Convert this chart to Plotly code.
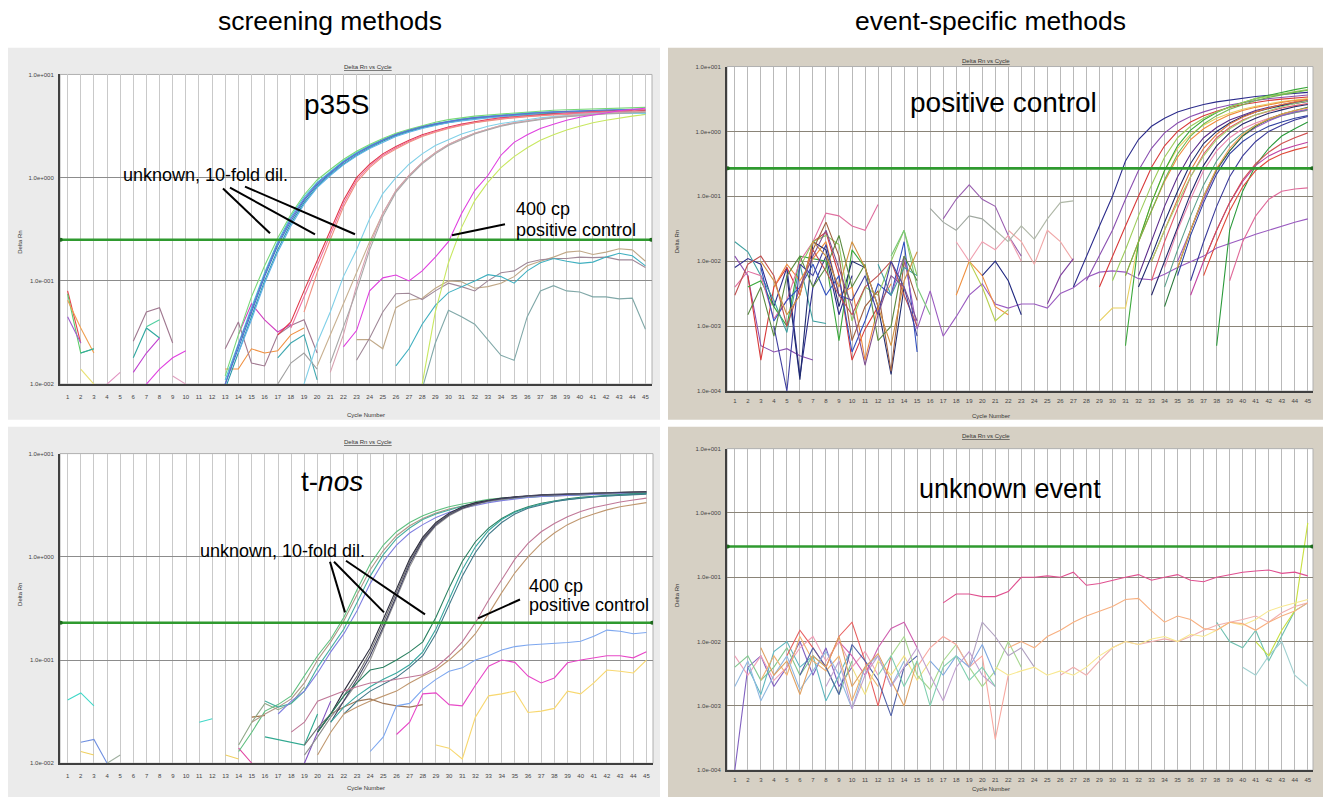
import plotly.graph_objects as go

CYCLES = list(range(1, 46))

# ---------------- p35S (screening, top-left) ----------------
P35S_THRESHOLD = 0.25
P35S_START = [1, 1, 1, 1, 2, 2, 4, 6, 6, 7, 6, 7, 9, 13, 13, 14, 17, 17,
              23, 23, 26, 28,
              13, 13, 13, 13, 14, 13,
              17, 18, 19,
              20, 19, 21, 21,
              22, 28]
P35S_VALUES = [
    [0.08, 0.025],
    [0.075, 0.02, 0.022],
    [0.065, 0.035, 0.02],
    [0.045, 0.025],
    [0.014, 0.01],
    [0.02, 0.022],
    [0.01, 0.013],
    [0.026, 0.05, 0.055, 0.025],
    [0.018, 0.035, 0.028],
    [0.036, 0.042],
    [0.013, 0.02, 0.028],
    [0.01, 0.014, 0.018, 0.021],
    [0.012, 0.01],
    [0.014, 0.014, 0.022, 0.02, 0.021, 0.03, 0.035],
    [0.022, 0.04, 0.016, 0.015, 0.03, 0.037, 0.042, 0.02],
    [0.03, 0.06, 0.042, 0.032, 0.038],
    [0.018, 0.025, 0.03, 0.011],
    [0.01, 0.016, 0.02, 0.014],
    # negatives
    [0.027, 0.027, 0.022, 0.055, 0.065, 0.068, 0.085, 0.1, 0.098, 0.085, 0.088, 0.095,
     0.11, 0.14, 0.155, 0.17, 0.19, 0.195, 0.18, 0.19, 0.205, 0.2, 0.155],
    [0.017, 0.028, 0.05, 0.075, 0.076, 0.066, 0.08, 0.095, 0.088, 0.08, 0.1, 0.12,
     0.125, 0.15, 0.16, 0.165, 0.165, 0.17, 0.168, 0.17, 0.16, 0.16, 0.135],
    [0.015, 0.022, 0.038, 0.058, 0.077, 0.087, 0.1, 0.115, 0.11, 0.095, 0.125, 0.15,
     0.165, 0.155, 0.148, 0.152, 0.17, 0.185, 0.175, 0.14],
    [0.009, 0.025, 0.052, 0.045, 0.038, 0.027, 0.019, 0.017, 0.045, 0.08, 0.09, 0.08,
     0.078, 0.07, 0.07, 0.067, 0.068, 0.034],
    # unknown, undiluted
    [0.010, 0.022, 0.05, 0.11, 0.22, 0.38, 0.6, 0.85, 1.1, 1.4, 1.7, 2.0, 2.3, 2.6, 2.85,
     3.1, 3.3, 3.5, 3.65, 3.8, 3.9, 4.0, 4.1, 4.2, 4.25, 4.3, 4.35, 4.4, 4.45, 4.5, 4.5, 4.55, 4.5],
    [0.011, 0.025, 0.055, 0.12, 0.24, 0.42, 0.65, 0.9, 1.15, 1.45, 1.75, 2.05, 2.35, 2.65, 2.9,
     3.15, 3.35, 3.55, 3.7, 3.85, 3.95, 4.05, 4.15, 4.25, 4.3, 4.35, 4.4, 4.45, 4.5, 4.55, 4.6, 4.6, 4.3],
    [0.012, 0.03, 0.07, 0.14, 0.26, 0.44, 0.68, 0.95, 1.2, 1.5, 1.8, 2.1, 2.4, 2.7, 2.95,
     3.2, 3.45, 3.65, 3.8, 3.95, 4.05, 4.15, 4.25, 4.35, 4.4, 4.5, 4.55, 4.6, 4.65, 4.7, 4.75, 4.8, 4.8],
    [0.009, 0.02, 0.045, 0.1, 0.2, 0.36, 0.57, 0.82, 1.07, 1.35, 1.65, 1.95, 2.25, 2.55, 2.8,
     3.05, 3.25, 3.45, 3.6, 3.75, 3.85, 3.95, 4.05, 4.1, 4.15, 4.2, 4.25, 4.3, 4.3, 4.35, 4.35, 4.4, 4.2],
    [0.02, 0.042, 0.095, 0.19, 0.34, 0.55, 0.8, 1.05, 1.33, 1.62, 1.92, 2.2, 2.5, 2.75, 3.0,
     3.2, 3.4, 3.55, 3.7, 3.8, 3.9, 4.0, 4.05, 4.1, 4.15, 4.2, 4.25, 4.25, 4.3, 4.3, 4.35, 4.1],
    [0.01, 0.024, 0.052, 0.115, 0.23, 0.4, 0.62, 0.88, 1.12, 1.42, 1.72, 2.02, 2.32, 2.62, 2.88,
     3.12, 3.32, 3.52, 3.68, 3.82, 3.92, 4.02, 4.12, 4.2, 4.28, 4.34, 4.4, 4.44, 4.48, 4.52, 4.55, 4.58, 4.55],
    # unknown, 1:10
    [0.03, 0.04, 0.08, 0.155, 0.3, 0.6, 1.0, 1.35, 1.7, 2.0, 2.3, 2.6, 2.85, 3.1, 3.3, 3.5,
     3.65, 3.8, 3.9, 4.0, 4.1, 4.15, 4.2, 4.3, 4.35, 4.4, 4.45, 4.5, 4.5],
    [0.035, 0.07, 0.14, 0.28, 0.56, 0.95, 1.3, 1.65, 1.95, 2.25, 2.55, 2.8, 3.05, 3.25, 3.45,
     3.6, 3.75, 3.85, 3.95, 4.05, 4.1, 4.2, 4.25, 4.3, 4.35, 4.4, 4.45, 4.6],
    [0.05, 0.12, 0.25, 0.52, 0.9, 1.25, 1.6, 1.9, 2.2, 2.5, 2.75, 3.0, 3.2, 3.4, 3.55, 3.7,
     3.8, 3.9, 4.0, 4.05, 4.1, 4.15, 4.2, 4.25, 4.3, 4.35, 4.4],
    # unknown, 1:100
    [0.015, 0.03, 0.06, 0.125, 0.24, 0.45, 0.75, 1.05, 1.4, 1.75, 2.1, 2.4, 2.7, 2.95, 3.2,
     3.4, 3.55, 3.7, 3.85, 3.95, 4.05, 4.1, 4.2, 4.25, 4.3, 4.35],
    [0.01, 0.025, 0.05, 0.11, 0.2, 0.4, 0.7, 1.0, 1.35, 1.7, 2.05, 2.35, 2.65, 2.9, 3.15,
     3.35, 3.5, 3.65, 3.8, 3.9, 4.0, 4.1, 4.15, 4.2, 4.2, 4.25, 4.2],
    [0.013, 0.03, 0.09, 0.22, 0.45, 0.75, 1.05, 1.4, 1.75, 2.1, 2.4, 2.7, 2.95, 3.2, 3.4,
     3.55, 3.7, 3.85, 3.95, 4.05, 4.1, 4.2, 4.25, 4.3, 4.35],
    [0.016, 0.035, 0.08, 0.2, 0.42, 0.72, 1.02, 1.36, 1.7, 2.05, 2.35, 2.65, 2.9, 3.15, 3.35,
     3.5, 3.65, 3.8, 3.9, 4.0, 4.05, 4.15, 4.2, 4.25, 4.3],
    # 400 cp positive control
    [0.023, 0.033, 0.08, 0.107, 0.114, 0.1, 0.125, 0.17, 0.24, 0.45, 0.75, 1.05, 1.65, 2.2,
     2.6, 3.0, 3.3, 3.6, 3.85, 4.05, 4.25, 4.45, 4.6, 4.7],
    [0.01, 0.05, 0.15, 0.33, 0.6, 0.9, 1.25, 1.6, 1.95, 2.3, 2.6, 2.9, 3.15, 3.4, 3.6, 3.8, 3.95, 4.1],
]
P35S_COLORS = ['#e8404a', '#5ccc6a', '#f0a050', '#a060d0', '#e8e070', '#30a8a0', '#e090c0',
               '#a07890', '#30a8a0', '#50d0a0', '#c040d0', '#e040e0', '#e0a0c0', '#f09040',
               '#a07890', '#d040c0', '#40a8b0', '#a0a0a0',
               '#c0a888', '#a08898', '#40b0c0', '#80a8a8',
               '#3a78c8', '#40c8d8', '#78d878', '#2898a8', '#60b0e8', '#6070d0',
               '#e03848', '#f070a0', '#f09080',
               '#c8b090', '#80d0e8', '#d8a0b0', '#a8a8a8',
               '#e040e0', '#c8e860']

# ---------------- positive control (event-specific, top-right) ----------------
POS_THRESHOLD = 0.27
POS_START = [1, 1, 2, 2, 1, 4, 1, 5, 3, 6, 7, 13, 16, 17, 18, 19, 18, 20, 22, 21, 13, 12, 25,
             1, 2, 4, 3, 6,
             29,
             27, 28, 29, 31, 30, 31, 32, 32, 33, 34, 34, 35, 38, 36, 37, 39, 33, 31, 33, 35, 37,
             34, 35, 36, 33]
POS_VALUES = [
    [0.008, 0.011, 0.009, 0.002, 0.008, 0.00017, 0.004, 0.012, 0.0015, 0.006],
    [0.012, 0.006, 0.0005, 0.0004, 0.00045, 0.00035, 0.0003],
    [0.006, 0.0003, 0.004, 0.008, 0.003, 0.02, 0.028, 0.006, 0.0003, 0.0009, 0.002],
    [0.004, 0.005, 0.002, 0.001, 0.012, 0.011, 0.01, 0.0006, 0.015, 0.008],
    [0.02, 0.014, 0.006, 0.0025, 0.0008, 0.009, 0.0012, 0.0011],
    [0.004, 0.009, 0.005, 0.011, 0.02, 0.003, 0.004, 0.0003, 0.002, 0.0045],
    [0.004, 0.007, 0.006, 0.0013, 0.0025, 0.01, 0.02, 0.055, 0.05, 0.035, 0.03, 0.075],
    [0.006, 0.00015, 0.02, 0.015, 0.002, 0.01, 0.008, 0.002, 0.00018, 0.004],
    [0.008, 0.0012, 0.0025, 0.004, 0.009, 0.003, 0.006, 0.0004, 0.0012, 0.0045, 0.003, 0.02, 0.0004],
    [0.008, 0.02, 0.025, 0.018, 0.0012, 0.004, 0.003, 0.01, 0.03, 0.006],
    [0.015, 0.04, 0.012, 0.0006, 0.002, 0.0035, 0.0002, 0.01, 0.0025],
    [0.003, 0.012, 0.0009, 0.0035, 0.0007, 0.0014, 0.003, 0.0045, 0.0022, 0.0019, 0.0022,
     0.0022, 0.0019, 0.0032, 0.0039, 0.0056, 0.0068, 0.0071, 0.0068, 0.0054, 0.0052, 0.0063,
     0.008, 0.0097, 0.012, 0.016, 0.019, 0.022, 0.026, 0.03, 0.035, 0.04, 0.045],
    [0.065, 0.04, 0.03, 0.05, 0.045, 0.03],
    [0.045, 0.09, 0.15, 0.09, 0.07, 0.025, 0.012],
    [0.003, 0.01, 0.006, 0.002, 0.0015],
    [0.01, 0.004, 0.0012, 0.0018],
    [0.02, 0.01, 0.02, 0.015, 0.025, 0.01],
    [0.006, 0.01, 0.005, 0.0015],
    [0.03, 0.02, 0.009, 0.03, 0.02, 0.01],
    [0.03, 0.02, 0.035, 0.022, 0.045, 0.08, 0.085],
    [0.012, 0.03, 0.004, 0.0015],
    [0.009, 0.003, 0.008, 0.006],
    [0.0022, 0.006, 0.011],
    [0.003, 0.009, 0.012, 0.006, 0.001, 0.004, 0.015, 0.007, 0.003, 0.0015, 0.004, 0.006, 0.01, 0.003, 0.001],
    [0.0015, 0.004, 0.0007, 0.006, 0.012, 0.004, 0.008, 0.025, 0.004, 0.009, 0.0006, 0.001, 0.012, 0.005],
    [0.001, 0.0001, 0.009, 0.006, 0.018, 0.003, 0.0025, 0.006, 0.0015, 0.01, 0.004, 0.0007],
    [0.01, 0.005, 0.0015, 0.003, 0.02, 0.012, 0.004, 0.02, 0.008, 0.002, 0.0005, 0.005, 0.014],
    [0.004, 0.012, 0.03, 0.008, 0.002, 0.00025, 0.0015, 0.006, 0.004, 0.0012],
    [0.0012, 0.0019, 0.0019, 0.02, 0.08, 0.25, 0.55, 0.9, 1.25, 1.6, 1.9, 2.2, 2.45, 2.7, 2.9, 3.05, 3.2],
    # amplification curves
    [0.004, 0.012, 0.035, 0.1, 0.35, 0.75, 1.2, 1.6, 2.0, 2.3, 2.6, 2.85, 3.05, 3.25, 3.45, 3.6, 3.75, 3.9, 4.0],
    [0.005, 0.012, 0.03, 0.09, 0.25, 0.55, 0.95, 1.35, 1.7, 2.0, 2.3, 2.55, 2.8, 3.0, 3.2, 3.35, 3.5, 3.65],
    [0.004, 0.012, 0.035, 0.1, 0.28, 0.6, 1.0, 1.4, 1.75, 2.05, 2.35, 2.6, 2.8, 3.0, 3.15, 3.3, 3.4],
    [0.0005, 0.02, 0.08, 0.25, 0.6, 1.05, 1.5, 1.95, 2.4, 2.8, 3.2, 3.6, 4.0, 4.4, 4.8],
    [0.005, 0.015, 0.05, 0.15, 0.4, 0.8, 1.2, 1.6, 2.0, 2.4, 2.8, 3.2, 3.5, 3.8, 4.1, 4.4],
    [0.006, 0.02, 0.06, 0.17, 0.4, 0.75, 1.1, 1.45, 1.8, 2.1, 2.35, 2.6, 2.8, 3.0, 3.1],
    [0.006, 0.02, 0.07, 0.2, 0.45, 0.8, 1.15, 1.5, 1.8, 2.1, 2.35, 2.6, 2.8, 3.0],
    [0.004, 0.012, 0.04, 0.12, 0.32, 0.65, 1.0, 1.35, 1.7, 2.0, 2.25, 2.5, 2.7, 2.9],
    [0.005, 0.02, 0.065, 0.2, 0.45, 0.8, 1.15, 1.5, 1.8, 2.05, 2.3, 2.5, 2.7],
    [0.008, 0.03, 0.09, 0.25, 0.5, 0.8, 1.1, 1.35, 1.6, 1.8, 1.95, 2.1],
    [0.004, 0.015, 0.05, 0.15, 0.35, 0.65, 0.95, 1.25, 1.5, 1.75, 1.95, 2.15],
    [0.006, 0.025, 0.08, 0.22, 0.45, 0.7, 0.95, 1.2, 1.4, 1.6, 1.75],
    [0.0005, 0.03, 0.12, 0.3, 0.55, 0.85, 1.1, 1.4],
    [0.003, 0.01, 0.03, 0.08, 0.17, 0.3, 0.42, 0.52, 0.6, 0.68],
    [0.006, 0.02, 0.06, 0.14, 0.25, 0.36, 0.45, 0.52, 0.58],
    [0.005, 0.02, 0.05, 0.09, 0.12, 0.13, 0.135],
    [0.003, 0.01, 0.035, 0.11, 0.3, 0.6, 0.95, 1.3, 1.6, 1.9, 2.15, 2.4, 2.6],
    [0.006, 0.02, 0.06, 0.18, 0.45, 0.85, 1.3, 1.75, 2.2, 2.6, 3.0, 3.35, 3.7, 4.0, 4.3],
    [0.01, 0.03, 0.09, 0.25, 0.55, 0.9, 1.3, 1.65, 2.0, 2.3, 2.6, 2.85, 3.1],
    [0.01, 0.03, 0.09, 0.25, 0.5, 0.85, 1.15, 1.45, 1.75, 2.0, 2.2],
    [0.01, 0.03, 0.08, 0.18, 0.32, 0.48, 0.65, 0.8, 0.95],
    [0.002, 0.008, 0.03, 0.1, 0.26, 0.5, 0.85, 1.2, 1.55, 1.85, 2.1, 2.35],
    [0.008, 0.03, 0.1, 0.27, 0.55, 0.9, 1.25, 1.55, 1.85, 2.1, 2.3],
    [0.005, 0.02, 0.07, 0.2, 0.42, 0.7, 1.0, 1.25, 1.5, 1.7],
    [0.01, 0.03, 0.08, 0.2, 0.42, 0.75, 1.1, 1.45, 1.8, 2.1, 2.4, 2.7, 2.95],
]
POS_COLORS = ['#2c2c8c', '#8a4fb0', '#d83a3a', '#3aa83a', '#40a0a0', '#f08a3c', '#e070a0',
              '#1e2a6e', '#3050c0', '#90c860', '#a06040', '#9a5ac0', '#a0a8a0', '#9a60b0',
              '#f09040', '#b8d050', '#f0a0b0', '#202880', '#f0a8a8', '#b0b8a8', '#78c878',
              '#40a0a0', '#8040a0',
              '#c05050', '#5a8a40', '#4040a0', '#d09040', '#805090',
              '#e8d060',
              '#2c2c8c', '#8a4fb0', '#d83a3a', '#3aa83a', '#9ccc5a', '#f08a3c', '#5a2a8a',
              '#1e2a6e', '#e05a6a', '#e888b0', '#5aa08a', '#3040a0', '#2a9a3a', '#c040a0',
              '#e04a3a', '#e06a9a', '#24246a', '#70b850', '#e07840', '#9a5ac0', '#d05050',
              '#2a7a3a', '#f0a050', '#3a3a9a', '#a8d070']

# ---------------- t-nos (screening, bottom-left) ----------------
TNOS_THRESHOLD = 0.23
TNOS_START = [1, 2, 4, 2, 11, 13, 15, 16, 14, 14, 19,
              20, 24, 26, 29,
              14, 15, 16, 17,
              19, 20, 19, 21,
              20, 21, 22,
              18, 20]
TNOS_VALUES = [
    [0.041, 0.048, 0.036],
    [0.016, 0.017, 0.01],
    [0.01, 0.012],
    [0.013, 0.012],
    [0.025, 0.027],
    [0.012, 0.011],
    [0.028, 0.029],
    [0.018, 0.017, 0.016, 0.015, 0.03],
    [0.015, 0.025, 0.038, 0.033, 0.038, 0.055],
    [0.014, 0.01],
    [0.01, 0.02, 0.04],
    # negatives
    [0.02, 0.03, 0.035, 0.04, 0.042, 0.038, 0.036, 0.035, 0.037],
    [0.013, 0.018, 0.036, 0.038, 0.052, 0.065, 0.078, 0.084, 0.1, 0.11, 0.125, 0.135, 0.14,
     0.142, 0.145, 0.148, 0.152, 0.17, 0.195, 0.19, 0.18, 0.185],
    [0.019, 0.025, 0.047, 0.048, 0.037, 0.036, 0.057, 0.087, 0.1, 0.095, 0.07, 0.06, 0.067,
     0.094, 0.1, 0.105, 0.11, 0.11, 0.105, 0.12],
    [0.015, 0.014, 0.011, 0.028, 0.045, 0.047, 0.05, 0.031, 0.032, 0.034, 0.05, 0.047, 0.06,
     0.08, 0.078, 0.075, 0.1],
    # unknown, undiluted
    [0.013, 0.02, 0.032, 0.037, 0.045, 0.07, 0.11, 0.16, 0.26, 0.48, 0.85, 1.3, 1.75, 2.15,
     2.5, 2.8, 3.05, 3.25, 3.45, 3.6, 3.7, 3.8, 3.85, 3.9, 3.95, 4.0, 4.05, 4.1, 4.1, 4.15, 4.15, 4.2],
    [0.025, 0.03, 0.035, 0.042, 0.06, 0.1, 0.15, 0.24, 0.43, 0.75, 1.15, 1.6, 2.0, 2.35, 2.65,
     2.9, 3.1, 3.3, 3.45, 3.6, 3.7, 3.8, 3.85, 3.9, 3.95, 4.0, 4.05, 4.05, 4.1, 4.1, 4.15],
    [0.04, 0.035, 0.038, 0.05, 0.085, 0.13, 0.2, 0.36, 0.65, 1.05, 1.5, 1.9, 2.3, 2.6, 2.85,
     3.1, 3.3, 3.45, 3.6, 3.7, 3.8, 3.85, 3.9, 3.95, 4.0, 4.05, 4.1, 4.1, 4.15, 4.2],
    [0.03, 0.04, 0.05, 0.075, 0.12, 0.18, 0.3, 0.55, 0.9, 1.3, 1.7, 2.05, 2.4, 2.7, 2.95,
     3.15, 3.35, 3.5, 3.65, 3.75, 3.85, 3.9, 3.95, 4.0, 4.05, 4.1, 4.1, 4.15, 4.2],
    # unknown, 1:10
    [0.015, 0.022, 0.03, 0.045, 0.07, 0.12, 0.23, 0.45, 0.9, 1.5, 2.1, 2.6, 3.0, 3.3, 3.5,
     3.65, 3.8, 3.9, 3.95, 4.0, 4.05, 4.1, 4.15, 4.2, 4.2, 4.25, 4.25],
    [0.02, 0.03, 0.05, 0.08, 0.13, 0.25, 0.48, 0.95, 1.55, 2.15, 2.65, 3.05, 3.35, 3.55, 3.7,
     3.82, 3.92, 3.98, 4.03, 4.08, 4.12, 4.17, 4.2, 4.22, 4.25, 4.28],
    [0.012, 0.018, 0.028, 0.04, 0.06, 0.1, 0.2, 0.4, 0.8, 1.4, 2.0, 2.5, 2.9, 3.2, 3.45, 3.6,
     3.75, 3.85, 3.92, 3.98, 4.03, 4.08, 4.12, 4.15, 4.18, 4.2, 4.22],
    [0.025, 0.04, 0.065, 0.11, 0.21, 0.42, 0.85, 1.45, 2.05, 2.55, 2.95, 3.25, 3.5, 3.65,
     3.78, 3.88, 3.95, 4.0, 4.05, 4.1, 4.13, 4.16, 4.2, 4.22, 4.25],
    # unknown, 1:100
    [0.02, 0.03, 0.045, 0.06, 0.08, 0.085, 0.1, 0.12, 0.15, 0.26, 0.5, 0.9, 1.4, 1.9, 2.35,
     2.75, 3.05, 3.3, 3.5, 3.65, 3.78, 3.88, 3.95, 4.02, 4.08, 4.12],
    [0.025, 0.035, 0.045, 0.055, 0.065, 0.075, 0.09, 0.12, 0.2, 0.38, 0.75, 1.25, 1.8, 2.3,
     2.7, 3.0, 3.25, 3.45, 3.6, 3.72, 3.82, 3.9, 3.97, 4.03, 4.08],
    [0.03, 0.04, 0.05, 0.058, 0.068, 0.085, 0.11, 0.18, 0.34, 0.65, 1.1, 1.65, 2.15, 2.6,
     2.95, 3.2, 3.42, 3.58, 3.7, 3.8, 3.88, 3.95, 4.0, 4.05],
    # 400 cp positive control
    [0.02, 0.025, 0.04, 0.045, 0.05, 0.055, 0.06, 0.062, 0.065, 0.068, 0.072, 0.085, 0.11,
     0.15, 0.23, 0.38, 0.6, 0.95, 1.35, 1.75, 2.1, 2.45, 2.75, 3.0, 3.2, 3.4, 3.55, 3.7],
    [0.012, 0.02, 0.03, 0.035, 0.04, 0.045, 0.05, 0.06, 0.07, 0.08, 0.1, 0.13, 0.18, 0.28,
     0.45, 0.7, 1.0, 1.35, 1.7, 2.05, 2.35, 2.6, 2.85, 3.05, 3.2, 3.35],
]
TNOS_COLORS = ['#40d8c8', '#7090e0', '#a0b0a0', '#f0d060', '#40d8c8', '#f0d060', '#a07040',
               '#30a890', '#90a888', '#e040a0', '#8050c0',
               '#a07858', '#7ea8f0', '#e848c8', '#f8d870',
               '#60c080', '#b09888', '#48b0a0', '#8080e0',
               '#707070', '#303040', '#909090', '#404060',
               '#2a8060', '#3aa8a0', '#407888',
               '#c07898', '#c09870']

# ---------------- unknown event (event-specific, bottom-right) ----------------
UNK_THRESHOLD = 0.3
UNK_START = [1, 1, 1, 2, 3, 5, 6, 9, 10, 13, 15, 16, 19, 38, 40, 1, 3, 8, 12,
             41, 26, 21, 22, 17]
UNK_VALUES = [
    [0.0001, 0.004, 0.006, 0.002, 0.004, 0.01, 0.003, 0.008, 0.002, 0.004],
    [0.006, 0.003, 0.006, 0.0025, 0.004, 0.008, 0.012, 0.005, 0.01, 0.004, 0.007, 0.003],
    [0.004, 0.006, 0.0025, 0.004, 0.008, 0.003, 0.006, 0.004, 0.0015, 0.005],
    [0.004, 0.0015, 0.007, 0.01, 0.004, 0.006, 0.0012, 0.003, 0.008],
    [0.0025, 0.006, 0.003, 0.012, 0.005, 0.0035, 0.006, 0.0012, 0.004, 0.002],
    [0.006, 0.015, 0.008, 0.004, 0.012, 0.02, 0.005, 0.001, 0.006],
    [0.003, 0.008, 0.004, 0.0015, 0.009, 0.005, 0.0025, 0.0007, 0.004, 0.006],
    [0.01, 0.006, 0.003, 0.008, 0.016, 0.02, 0.008],
    [0.004, 0.0015, 0.005, 0.003, 0.006, 0.0025, 0.005],
    [0.006, 0.012, 0.003, 0.0018, 0.005, 0.009, 0.004, 0.002, 0.0035, 0.01, 0.004],
    [0.004, 0.008, 0.012, 0.009, 0.004, 0.006, 0.0003, 0.003],
    [0.005, 0.003, 0.006, 0.004, 0.009, 0.003],
    [0.004, 0.02, 0.012, 0.006, 0.008, 0.004],
    [0.02, 0.01, 0.008, 0.015, 0.005, 0.012, 0.03, 0.04],
    [0.004, 0.003, 0.006, 0.01, 0.003, 0.002],
    [0.002, 0.005, 0.0012, 0.003, 0.006, 0.0018, 0.0035, 0.007, 0.003, 0.0009, 0.004, 0.006, 0.002, 0.005],
    [0.008, 0.003, 0.005, 0.0015, 0.006, 0.004, 0.012, 0.002, 0.004, 0.0065, 0.0025, 0.001, 0.005],
    [0.002, 0.005, 0.0009, 0.003, 0.006, 0.002, 0.004, 0.008, 0.003, 0.0012, 0.004, 0.007, 0.003, 0.002],
    [0.003, 0.006, 0.002, 0.005, 0.001, 0.004, 0.006, 0.0025, 0.004, 0.002],
    [0.01, 0.006, 0.015, 0.03, 0.7],
    [0.003, 0.004, 0.003, 0.005, 0.008, 0.01, 0.009, 0.01, 0.011, 0.01, 0.012, 0.015, 0.018,
     0.02, 0.022, 0.025, 0.02, 0.028, 0.035, 0.04],
    [0.004, 0.003, 0.0035, 0.004, 0.003, 0.0035, 0.003, 0.004, 0.006, 0.008, 0.01, 0.009,
     0.011, 0.012, 0.01, 0.013, 0.012, 0.015, 0.02, 0.018, 0.022, 0.03, 0.035, 0.04, 0.045],
    [0.008, 0.01, 0.008, 0.012, 0.015, 0.02, 0.025, 0.03, 0.035, 0.045, 0.047, 0.03, 0.02,
     0.025, 0.022, 0.016, 0.015, 0.02, 0.019, 0.015, 0.02, 0.025, 0.03, 0.04],
    [0.04, 0.055, 0.055, 0.05, 0.05, 0.06, 0.1, 0.1, 0.105, 0.1, 0.12, 0.075, 0.08, 0.09,
     0.1, 0.11, 0.09, 0.1, 0.11, 0.09, 0.085, 0.1, 0.11, 0.12, 0.125, 0.13, 0.115, 0.12, 0.105],
]
UNK_COLORS = ['#8060c0', '#f0a0b8', '#80c890', '#60b8c0', '#f0b070', '#e86060', '#5060a8',
              '#d060b0', '#f0e080', '#a8d890', '#f8a8a0', '#80a8e0', '#b0a0c0', '#70c0b0',
              '#a0d0d0', '#90b8e0', '#e0a060', '#c0a0d0', '#80d0b0',
              '#c8e040', '#f0b0b0', '#f8e890', '#f8b080', '#e05090']

Y_TICKS_3 = [0.01, 0.1, 1, 10]
Y_TEXT_3 = ['1.0e-002', '1.0e-001', '1.0e+000', '1.0e+001']
Y_TICKS_5 = [0.0001, 0.001, 0.01, 0.1, 1, 10]
Y_TEXT_5 = ['1.0e-004', '1.0e-003', '1.0e-002', '1.0e-001', '1.0e+000', '1.0e+001']

# ---------------- layout helpers ----------------
W, H = 1323, 800
FONT = 'Liberation Sans, Arial, Helvetica, sans-serif'


def px(x):
    return x / W


def py(y):
    return 1 - y / H


PANELS = [
    dict(key='', start=P35S_START, values=P35S_VALUES, colors=P35S_COLORS, thr=P35S_THRESHOLD,
         box=(60, 72, 652, 384), bg=(8, 45, 660, 420), bgcolor='#ebebeb',
         yr=[-2, 1], yt=Y_TICKS_3, ytt=Y_TEXT_3, xr=[0.42, 45.5], tl=6,
         grid='#c9c9c9', hgrid='#8c8c8c', title=(342, 59), cyc=(345, 415), ylab=15),
    dict(key='2', start=POS_START, values=POS_VALUES, colors=POS_COLORS, thr=POS_THRESHOLD,
         box=(727, 64, 1313, 391), bg=(668, 45, 1323, 420), bgcolor='#d6d0c4',
         yr=[-4, 1], yt=Y_TICKS_5, ytt=Y_TEXT_5, xr=[0.4, 45.4], tl=3,
         grid='#b9b9b9', hgrid='#8a8478', title=(1012, 53), cyc=(1012, 416), ylab=677),
    dict(key='3', start=TNOS_START, values=TNOS_VALUES, colors=TNOS_COLORS, thr=TNOS_THRESHOLD,
         box=(60, 454, 653, 766), bg=(8, 427, 660, 800), bgcolor='#ebebeb',
         yr=[-2, 1], yt=Y_TICKS_3, ytt=Y_TEXT_3, xr=[0.42, 45.5], tl=6,
         grid='#c9c9c9', hgrid='#8c8c8c', title=(342, 442), cyc=(345, 796), ylab=15),
    dict(key='4', start=UNK_START, values=UNK_VALUES, colors=UNK_COLORS, thr=UNK_THRESHOLD,
         box=(727, 449, 1313, 773), bg=(668, 427, 1323, 800), bgcolor='#d6d0c4',
         yr=[-4, 1], yt=Y_TICKS_5, ytt=Y_TEXT_5, xr=[0.4, 45.4], tl=3,
         grid='#b9b9b9', hgrid='#8a8478', title=(1012, 436), cyc=(1012, 797), ylab=677),
]

fig = go.Figure()
shapes = []
annotations = []
layout = {}

for p in PANELS:
    k = p['key']
    xa, ya = 'x' + k, 'y' + k
    for s, vals, col in zip(p['start'], p['values'], p['colors']):
        xs = CYCLES[s - 1:s - 1 + len(vals)]
        fig.add_trace(go.Scatter(x=xs, y=vals, mode='lines', xaxis=xa, yaxis=ya,
                                 line=dict(color=col, width=1.1), hoverinfo='skip',
                                 showlegend=False))
    # threshold
    fig.add_trace(go.Scatter(x=[p['xr'][0] + 0.06, p['xr'][1] - 0.06], y=[p['thr'], p['thr']],
                             mode='lines+markers', xaxis=xa, yaxis=ya,
                             line=dict(color='#2f9a2f', width=2.6),
                             marker=dict(size=4, color='#1f6a1f'),
                             hoverinfo='skip', showlegend=False))
    x0, y0, x1, y1 = p['box']
    bx0, by0, bx1, by1 = p['bg']
    shapes.append(dict(type='rect', xref='paper', yref='paper', layer='below',
                       x0=px(bx0), x1=px(bx1), y0=py(by1), y1=py(by0),
                       fillcolor=p['bgcolor'], line=dict(width=0)))
    shapes.append(dict(type='rect', xref='paper', yref='paper', layer='below',
                       x0=px(x0), x1=px(x1), y0=py(y1), y1=py(y0),
                       fillcolor='white', line=dict(color='#b0b0b0', width=1)))
    layout['xaxis' + k] = dict(domain=[px(x0), px(x1)], anchor=ya, range=p['xr'],
                               tickmode='array', tickvals=CYCLES, ticktext=[str(c) for c in CYCLES],
                               tickfont=dict(size=6, color='#444', family=FONT),
                               showgrid=True, gridcolor=p['grid'], gridwidth=1,
                               showline=True, linecolor='#404040', linewidth=2,
                               zeroline=False, ticks='outside', ticklen=p['tl'],
                               tickcolor='rgba(0,0,0,0)', fixedrange=True)
    layout['yaxis' + k] = dict(domain=[py(y1), py(y0)], anchor=xa, type='log', range=p['yr'],
                               tickmode='array', tickvals=p['yt'], ticktext=p['ytt'],
                               tickfont=dict(size=6, color='#444', family=FONT),
                               showgrid=True, gridcolor=p['hgrid'], gridwidth=1,
                               showline=True, linecolor='#404040', linewidth=2,
                               zeroline=False, ticks='outside', ticklen=3,
                               tickcolor='rgba(0,0,0,0)', fixedrange=True)
    annotations.append(dict(x=px(p['title'][0]), y=py(p['title'][1]),
                            xref='paper', yref='paper', showarrow=False,
                            text='<u>Delta Rn vs Cycle</u>',
                            font=dict(size=6, color='#333', family=FONT)))
    annotations.append(dict(x=px(p['cyc'][0]), y=py(p['cyc'][1]), xref='paper', yref='paper',
                            showarrow=False, text='Cycle Number',
                            font=dict(size=6, color='#333', family=FONT)))
    annotations.append(dict(x=px(p['ylab']), y=py((y0 + y1) / 2), xref='paper', yref='paper',
                            showarrow=False, text='Delta Rn', textangle=-90,
                            font=dict(size=6, color='#333', family=FONT)))


def text(x, y, t, size, anchor='center'):
    annotations.append(dict(x=px(x), y=py(y), xref='paper', yref='paper', showarrow=False,
                            text=t, xanchor=anchor, yanchor='middle',
                            font=dict(size=size, color='black', family=FONT)))


text(330, 18, 'screening methods', 26.5)
text(990, 18, 'event-specific methods', 26.5)
text(336, 102, 'p35S', 28)
text(1003, 100, 'positive control', 28)
text(332, 482, 't-<i>nos</i>', 28)
text(1010, 490, 'unknown event', 27)
text(205, 173, 'unknown, 10-fold dil.', 18)
text(282, 552, 'unknown, 10-fold dil.', 18)
text(514, 208, '400 cp', 18, 'left')
text(514, 229, 'positive control', 18, 'left')
text(527, 587, '400 cp', 18, 'left')
text(527, 607, 'positive control', 18, 'left')

POINTER_LINES = [
    ((223, 187), (270, 232)), ((230, 186), (315, 233)), ((245, 185), (355, 233)),
    ((505, 223), (452, 234)),
    ((330, 563), (345, 614)), ((334, 563), (384, 614)), ((346, 562), (425, 616)),
    ((520, 601), (478, 620)),
]
for (ax0, ay0), (ax1, ay1) in POINTER_LINES:
    shapes.append(dict(type='line', xref='paper', yref='paper', x0=px(ax0), y0=py(ay0),
                       x1=px(ax1), y1=py(ay1), line=dict(color='black', width=2)))

fig.update_layout(width=W, height=H, margin=dict(l=0, r=0, t=0, b=0),
                  paper_bgcolor='white', plot_bgcolor='rgba(0,0,0,0)',
                  shapes=shapes, annotations=annotations, showlegend=False,
                  hovermode=False, font=dict(family=FONT), **layout)

fig.write_html('out.html', config={'displayModeBar': False},
               post_script="document.body.style.margin='0';")
